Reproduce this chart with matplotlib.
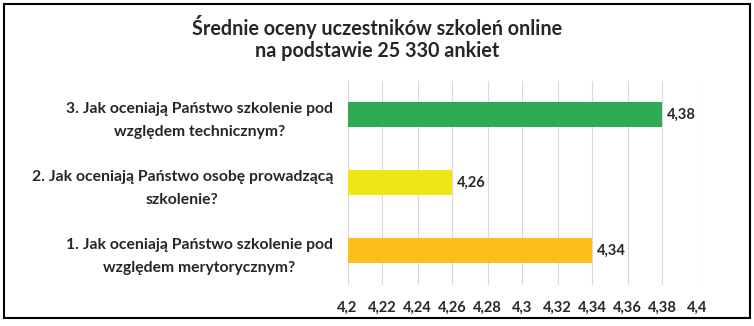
import matplotlib.pyplot as plt
from matplotlib.patches import Rectangle

plt.rcParams['font.family'] = ['Lato', 'DejaVu Sans']

pytania = ['1. Jak oceniają Państwo szkolenie pod\nwzględem merytorycznym?',
           '2. Jak oceniają Państwo osobę prowadzącą\nszkolenie?',
           '3. Jak oceniają Państwo szkolenie pod\nwzględem technicznym?']
oceny = [4.34, 4.26, 4.38]
kolory = ['#FBBE1A', '#F0E515', '#2DAA52']
ticki = [4.2, 4.22, 4.24, 4.26, 4.28, 4.3, 4.32, 4.34, 4.36, 4.38, 4.4]

fig = plt.figure(figsize=(7.54, 3.26), dpi=100)
ax = fig.add_axes([347.5 / 754, 1 - 284.5 / 326, 350 / 754, 204 / 326])

y = range(len(pytania))
ax.barh(y, [v - 4.2 for v in oceny], left=4.2, height=0.37, color=kolory, zorder=3)
for i, v in enumerate(oceny):
    ax.text(v + 0.0025, i, f'{v:.2f}'.replace('.', ','), va='center', ha='left',
            fontsize=10.5, fontweight='bold', color='#262626')

ax.set_xlim(4.2, 4.4)
ax.set_ylim(-0.5, 2.5)
ax.set_xticks(ticki)
ax.set_xticklabels([f'{t:g}'.replace('.', ',') for t in ticki],
                   fontsize=10.5, fontweight='bold', color='#262626')
ax.set_yticks(list(y))
ax.set_yticklabels(pytania, fontsize=11.3, fontweight='bold', color='#262626',
                   ha='right', multialignment='center', linespacing=1.85)
ax.tick_params(axis='y', length=0, pad=10.5)
ax.tick_params(axis='x', length=0, pad=12)
ax.grid(axis='x', color='#D9D9D9', linewidth=0.8, zorder=0)
for s in ax.spines.values():
    s.set_visible(False)

fig.text(0.5, 1 - 27 / 326, 'Średnie oceny uczestników szkoleń online',
         ha='center', va='center', fontsize=14.2, fontweight='bold', color='#262626')
fig.text(0.5, 1 - 51 / 326, 'na podstawie 25 330 ankiet',
         ha='center', va='center', fontsize=14.2, fontweight='bold', color='#262626')

fig.patches.append(Rectangle((4 / 754, 1 - 318 / 326), 746 / 754, 314 / 326,
                             transform=fig.transFigure, fill=False,
                             edgecolor='black', linewidth=1.5))

fig.savefig('out.png', dpi=100)
